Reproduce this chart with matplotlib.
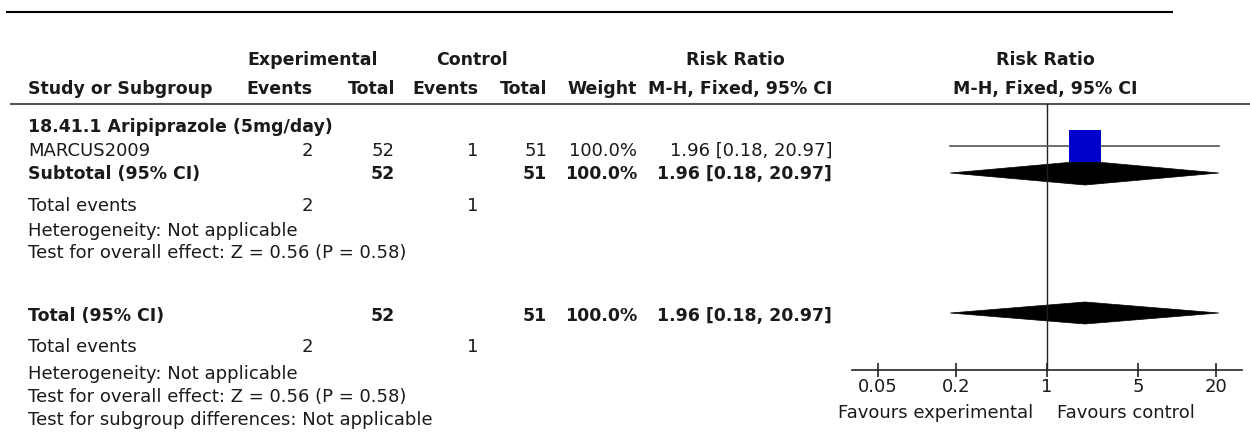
import matplotlib.pyplot as plt
from matplotlib.patches import Polygon

# data
study = ['MARCUS2009']
exp_events = [2]
exp_total = [52]
ctrl_events = [1]
ctrl_total = [51]
weight = [100.0]
rr = [1.96]
rr_lo = [0.18]
rr_hi = [20.97]

sub_label = 'Subtotal (95% CI)'
sub_rr, sub_lo, sub_hi = 1.96, 0.18, 20.97
tot_rr, tot_lo, tot_hi = 1.96, 0.18, 20.97

group_title = '18.41.1 Aripiprazole (5mg/day)'
ticks = [0.05, 0.2, 1, 5, 20]
tick_labels = ['0.05', '0.2', '1', '5', '20']

plt.rcParams['font.family'] = ['DejaVu Sans']
FS = 13
FSB = 12.5
TXT = '#1a1a1a'

fig = plt.figure(figsize=(12.5, 4.41), dpi=100)
ax = fig.add_axes([0, 0, 1, 1])
ax.set_xlim(0, 1250); ax.set_ylim(441, 0); ax.axis('off')

def t(x, y, s, ha='left', bold=False):
    ax.text(x, y, s, ha=ha, va='center', fontsize=FSB if bold else FS, color=TXT,
            fontweight='bold' if bold else 'normal')

# column right edges
cE, cT, kE, kT, cW, cR = 313, 395, 478, 547, 637, 832

# rules
ax.plot([6, 1173], [12, 12], color='black', lw=1.5, solid_capstyle='butt')
ax.plot([10, 1250], [104, 104], color='#555555', lw=1.5, solid_capstyle='butt')

# header
t(313, 60, 'Experimental', 'center', True)
t(472, 60, 'Control', 'center', True)
t(735, 60, 'Risk Ratio', 'center', True)
t(1045, 60, 'Risk Ratio', 'center', True)
t(28, 89, 'Study or Subgroup', bold=True)
for x, s in [(cE, 'Events'), (cT, 'Total'), (kE, 'Events'), (kT, 'Total'),
             (cW, 'Weight'), (cR, 'M-H, Fixed, 95% CI')]:
    t(x, 89, s, 'right', True)
t(1045, 89, 'M-H, Fixed, 95% CI', 'center', True)

# group
t(28, 127, group_title, bold=True)
y_study = [151]
for i, name in enumerate(study):
    y = y_study[i]
    t(28, y, name)
    t(cE, y, str(exp_events[i]), 'right')
    t(cT, y, str(exp_total[i]), 'right')
    t(kE, y, str(ctrl_events[i]), 'right')
    t(kT, y, str(ctrl_total[i]), 'right')
    t(cW, y, f'{weight[i]:.1f}%', 'right')
    t(cR, y, f'{rr[i]:.2f} [{rr_lo[i]:.2f}, {rr_hi[i]:.2f}]', 'right')

t(28, 174, sub_label, bold=True)
t(cT, 174, str(sum(exp_total)), 'right', True)
t(kT, 174, str(sum(ctrl_total)), 'right', True)
t(cW, 174, f'{sum(weight):.1f}%', 'right', True)
t(cR, 174, f'{sub_rr:.2f} [{sub_lo:.2f}, {sub_hi:.2f}]', 'right', True)
t(28, 206, 'Total events')
t(cE, 206, str(sum(exp_events)), 'right')
t(kE, 206, str(sum(ctrl_events)), 'right')
t(28, 231, 'Heterogeneity: Not applicable')
t(28, 253, 'Test for overall effect: Z = 0.56 (P = 0.58)')

t(28, 316, 'Total (95% CI)', bold=True)
t(cT, 316, str(sum(exp_total)), 'right', True)
t(kT, 316, str(sum(ctrl_total)), 'right', True)
t(cW, 316, f'{sum(weight):.1f}%', 'right', True)
t(cR, 316, f'{tot_rr:.2f} [{tot_lo:.2f}, {tot_hi:.2f}]', 'right', True)
t(28, 347, 'Total events')
t(cE, 347, str(sum(exp_events)), 'right')
t(kE, 347, str(sum(ctrl_events)), 'right')
t(28, 374, 'Heterogeneity: Not applicable')
t(28, 397, 'Test for overall effect: Z = 0.56 (P = 0.58)')
t(28, 420, 'Test for subgroup differences: Not applicable')

# forest panel
fx0, fx1, fy0, fy1 = 852, 1242, 104, 370
fax = fig.add_axes([fx0 / 1250, (441 - fy1) / 441, (fx1 - fx0) / 1250, (fy1 - fy0) / 441])
fax.set_xscale('log')
fax.set_xlim(10 ** -1.5, 10 ** 1.5)
fax.set_ylim(fy1, fy0)
fax.patch.set_alpha(0)
for s in ['top', 'left', 'right']:
    fax.spines[s].set_visible(False)
fax.spines['bottom'].set_color('#222222')
fax.spines['bottom'].set_linewidth(1.2)
fax.set_yticks([])
fax.set_xticks(ticks)
fax.set_xticklabels(tick_labels)
fax.minorticks_off()
fax.tick_params(axis='x', direction='inout', length=10, width=1.2, color='#222222',
                labelsize=FS, labelcolor=TXT, pad=1)
fax.axvline(1, color='#222222', lw=1.0)

for i in range(len(study)):
    yc = 146
    fax.plot([rr_lo[i], rr_hi[i]], [yc, yc], color='#555555', lw=1.2)
    fax.plot(rr[i], yc, marker='s', markersize=22.5, color='#0000cc', markeredgewidth=0)

def diamond(est, lo, hi, yc, h=12):
    fax.add_patch(Polygon([[lo, yc], [est, yc - h], [hi, yc], [est, yc + h]],
                          closed=True, facecolor='black', edgecolor='black', lw=0.5))

diamond(sub_rr, sub_lo, sub_hi, 173)
diamond(tot_rr, tot_lo, tot_hi, 313, 11)

t(1033, 413, 'Favours experimental', 'right')
t(1057, 413, 'Favours control')

fig.savefig('out.png', dpi=100)
